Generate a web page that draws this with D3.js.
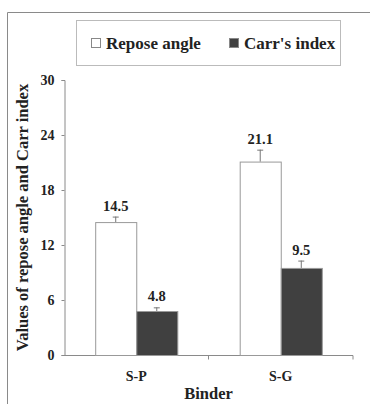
<!DOCTYPE html>
<html>
<head>
<meta charset="utf-8">
<script src="https://cdn.jsdelivr.net/npm/d3@7"></script>
<style>
  html, body { margin: 0; padding: 0; background: #fff; }
  svg { display: block; }
</style>
</head>
<body>
<svg id="chart" width="370" height="404"></svg>
<script>
// Binder types on the x axis
const binders = ["S-P", "S-G"];
// Series names
const seriesNames = ["Repose angle", "Carr's index"];
// Mean values per binder
const reposeAngle = [14.5, 21.1];
const carrIndex = [4.8, 9.5];
// Standard deviations (error bars)
const reposeErr = [0.6, 1.3];
const carrErr = [0.4, 0.8];
// Y axis ticks
const yTicks = [0, 6, 12, 18, 24, 30];

const FONT = "'Liberation Serif', 'Times New Roman', serif";
const TXT = "#222";

const svg = d3.select("#chart");
const W = 370, H = 404;
const margin = { left: 64, right: 17, top: 80, bottom: 49 };

function label(sel) {
  return sel.attr("font-family", FONT).attr("font-weight", "bold").attr("fill", TXT);
}

// Outer frame (top and left edges)
svg.append("path")
  .attr("d", `M7.5,${H} V12.5 H${W}`)
  .attr("fill", "none").attr("stroke", "#8a8a8a").attr("stroke-width", 1);

const x0 = d3.scaleBand().domain(binders)
  .range([margin.left, W - margin.right]).paddingInner(0).paddingOuter(0);
const x1 = d3.scaleBand().domain(seriesNames)
  .range([0, x0.bandwidth()]).paddingInner(0).paddingOuter(0.76);
const y = d3.scaleLinear().domain([0, 30]).range([H - margin.bottom, margin.top]);

const series = [
  { name: seriesNames[0], values: reposeAngle, err: reposeErr, fill: "#ffffff" },
  { name: seriesNames[1], values: carrIndex, err: carrErr, fill: "#404040" }
];

// Y axis
const yAxis = svg.append("g")
  .attr("transform", `translate(${margin.left + 0.5},0)`)
  .call(d3.axisLeft(y).tickValues(yTicks).tickSize(3).tickPadding(7).tickFormat(d3.format("d")));
yAxis.attr("font-family", FONT);
yAxis.select(".domain").attr("stroke", "#8a8a8a");
yAxis.selectAll(".tick line").attr("stroke", "#8a8a8a");
label(yAxis.selectAll("text")).attr("font-size", 14);

// X axis with boundary ticks between groups
const xAxisY = y(0) + 0.5;
svg.append("line")
  .attr("x1", margin.left).attr("x2", W - margin.right)
  .attr("y1", xAxisY).attr("y2", xAxisY).attr("stroke", "#8a8a8a");
const bounds = binders.map(b => x0(b) + x0.bandwidth());
svg.selectAll(".xtick").data(bounds).join("line")
  .attr("x1", d => d).attr("x2", d => d)
  .attr("y1", xAxisY).attr("y2", xAxisY + 4).attr("stroke", "#8a8a8a");
label(svg.selectAll(".xlab").data(binders).join("text"))
  .attr("x", d => x0(d) + x0.bandwidth() / 2)
  .attr("y", xAxisY + 25)
  .attr("text-anchor", "middle").attr("font-size", 14)
  .text(d => d);

// Bars
series.forEach(s => {
  const g = svg.append("g");
  binders.forEach((b, i) => {
    const bx = x0(b) + x1(s.name);
    const v = s.values[i];
    const e = s.err[i];
    const cx = bx + x1.bandwidth() / 2;
    g.append("rect")
      .attr("x", bx + 0.5).attr("y", y(v) + 0.5)
      .attr("width", x1.bandwidth()).attr("height", y(0) - y(v))
      .attr("fill", s.fill).attr("stroke", "#999").attr("stroke-width", 1);
    // error bar
    g.append("line").attr("x1", cx).attr("x2", cx)
      .attr("y1", y(v)).attr("y2", y(v + e)).attr("stroke", "#777");
    g.append("line").attr("x1", cx - 3).attr("x2", cx + 3)
      .attr("y1", y(v + e) + 0.5).attr("y2", y(v + e) + 0.5).attr("stroke", "#777");
    // value label
    label(g.append("text"))
      .attr("x", cx).attr("y", y(v + e) - 6)
      .attr("text-anchor", "middle").attr("font-size", 14.5)
      .text(d3.format(".1f")(v));
  });
});

// Axis titles
label(svg.append("text"))
  .attr("x", x0.range()[0] + (x0.range()[1] - x0.range()[0]) / 2)
  .attr("y", 399).attr("text-anchor", "middle").attr("font-size", 16.5)
  .text("Binder");
label(svg.append("text"))
  .attr("transform", `translate(28,${(y(0) + y(30)) / 2}) rotate(-90)`)
  .attr("text-anchor", "middle").attr("font-size", 16.5)
  .text("Values of repose angle and Carr index");

// Legend
const lg = svg.append("g");
lg.append("rect").attr("x", 76.5).attr("y", 20.5).attr("width", 264).attr("height", 45)
  .attr("fill", "#fff").attr("stroke", "#bbb");
const legendX = [91, 229];
series.forEach((s, i) => {
  lg.append("rect").attr("x", legendX[i] + 0.5).attr("y", 38.5).attr("width", 9).attr("height", 9)
    .attr("fill", s.fill).attr("stroke", "#888");
  label(lg.append("text")).attr("x", legendX[i] + 15).attr("y", 49)
    .attr("font-size", 17).text(s.name);
});
</script>
</body>
</html>
